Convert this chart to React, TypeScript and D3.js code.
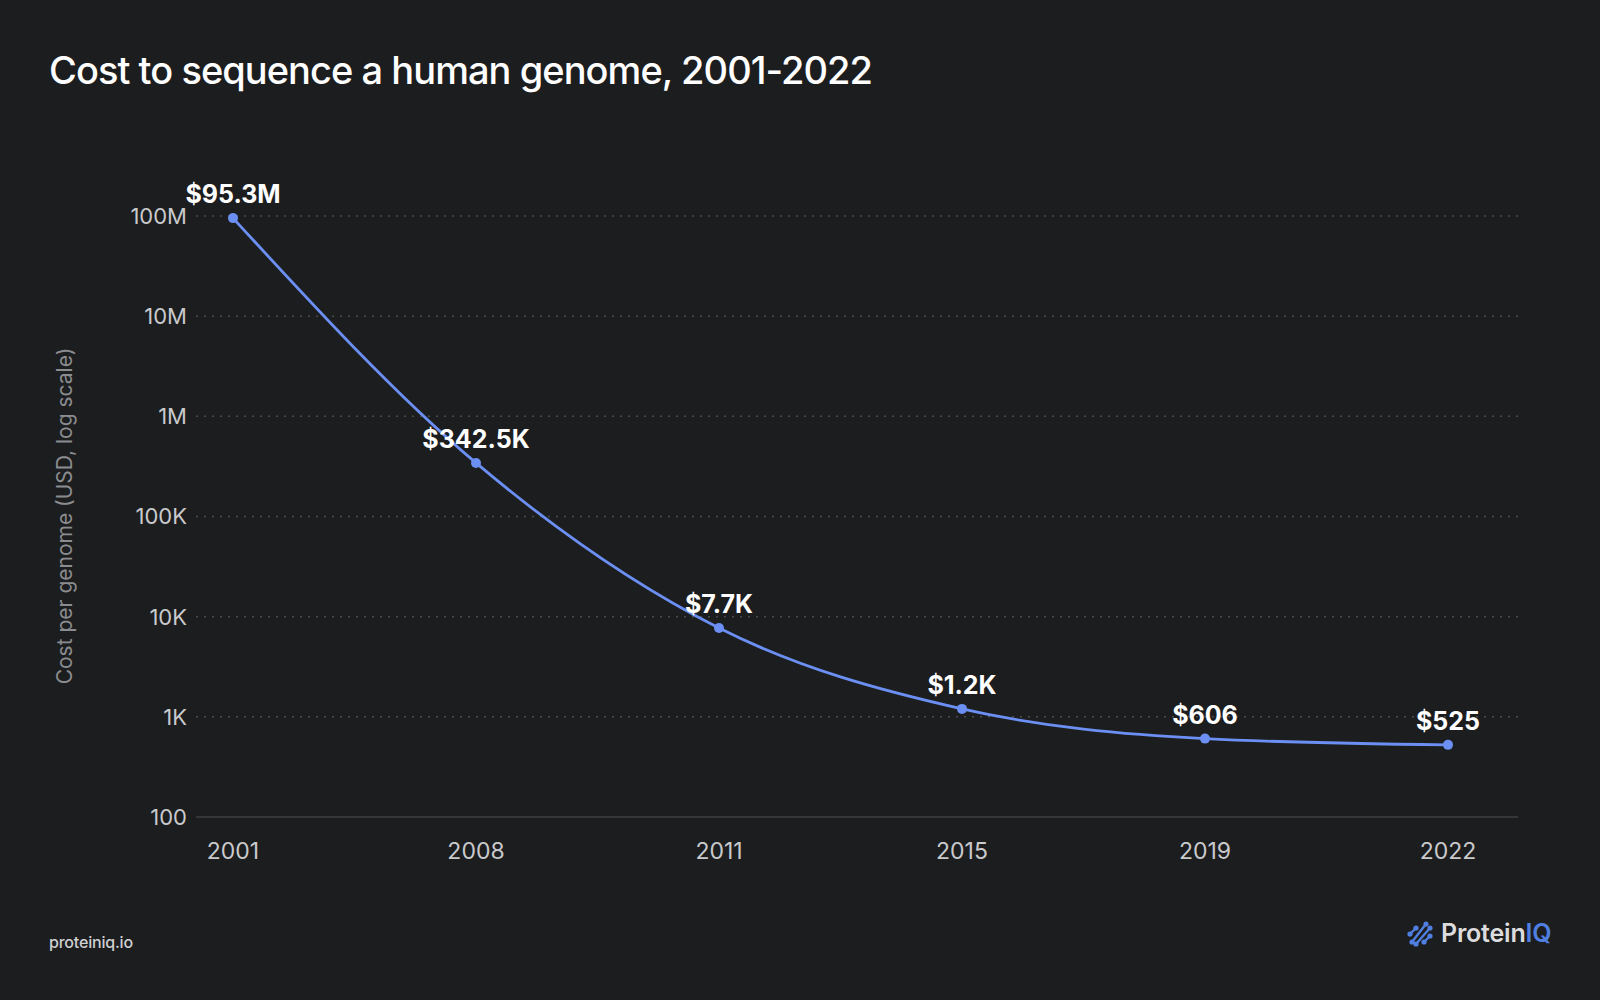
import React, { useEffect, useRef } from 'react'
import * as d3 from 'd3'

const years = ['2001', '2008', '2011', '2015', '2019', '2022']
const costs = [95300000, 342500, 7700, 1200, 606, 525]
const costLabels = ['$95.3M', '$342.5K', '$7.7K', '$1.2K', '$606', '$525']
const yTicks = [100, 1000, 10000, 100000, 1000000, 10000000, 100000000]
const yTickLabels = ['100', '1K', '10K', '100K', '1M', '10M', '100M']

const W = 1600
const H = 1000
const BG = '#1c1d1f'
const LINE = '#6b8ff2'
const FONT = 'Inter, "Liberation Sans", sans-serif'

const App: React.FC = () => {
  const ref = useRef<SVGSVGElement>(null)

  useEffect(() => {
    if (!ref.current) return
    const svg = d3.select(ref.current)
    svg.selectAll('*').remove()

    svg.append('rect').attr('width', W).attr('height', H).attr('fill', BG)

    const x = d3.scalePoint<string>().domain(years).range([233, 1448])
    const y = d3.scaleLog().domain([100, 1e8]).range([817, 216])
    const gridLeft = 196
    const gridRight = 1518

    // title
    svg.append('text')
      .attr('x', 49).attr('y', 84)
      .attr('fill', '#ffffff')
      .attr('font-family', FONT)
      .attr('font-size', 38)
      .attr('font-weight', 500)
      .attr('letter-spacing', -0.95)
      .text('Cost to sequence a human genome, 2001-2022')

    // grid lines
    const grid = svg.append('g')
    grid.selectAll('line')
      .data(yTicks)
      .enter().append('line')
      .attr('x1', gridLeft).attr('x2', gridRight)
      .attr('y1', d => y(d)).attr('y2', d => y(d))
      .attr('stroke', d => d === 100 ? '#3e3f42' : '#4a4b4e')
      .attr('stroke-width', 1.5)
      .attr('stroke-dasharray', d => d === 100 ? null : '2,6')

    // y tick labels
    svg.append('g').selectAll('text')
      .data(yTicks)
      .enter().append('text')
      .attr('x', 187)
      .attr('y', d => y(d))
      .attr('dy', '0.36em')
      .attr('text-anchor', 'end')
      .attr('fill', '#c9cacc')
      .attr('font-family', FONT)
      .attr('font-size', 22)
      .text((d, i) => yTickLabels[i])

    // x tick labels
    svg.append('g').selectAll('text')
      .data(years)
      .enter().append('text')
      .attr('x', d => x(d) as number)
      .attr('y', 859)
      .attr('text-anchor', 'middle')
      .attr('fill', '#c9cacc')
      .attr('font-family', FONT)
      .attr('font-size', 23)
      .text(d => d)

    // y axis title
    svg.append('text')
      .attr('transform', 'translate(72,516) rotate(-90)')
      .attr('text-anchor', 'middle')
      .attr('fill', '#8b8c8f')
      .attr('font-family', FONT)
      .attr('font-size', 21)
      .text('Cost per genome (USD, log scale)')

    const pts = years.map((yr, i) => ({ yr, v: costs[i], label: costLabels[i] }))

    const line = d3.line<{ yr: string; v: number }>()
      .x(d => x(d.yr) as number)
      .y(d => y(d.v))
      .curve(d3.curveMonotoneX)

    svg.append('path')
      .datum(pts)
      .attr('d', line)
      .attr('fill', 'none')
      .attr('stroke', LINE)
      .attr('stroke-width', 2.8)

    svg.append('g').selectAll('circle')
      .data(pts)
      .enter().append('circle')
      .attr('cx', d => x(d.yr) as number)
      .attr('cy', d => y(d.v))
      .attr('r', 5)
      .attr('fill', LINE)

    svg.append('g').selectAll('text')
      .data(pts)
      .enter().append('text')
      .attr('x', d => x(d.yr) as number)
      .attr('y', d => y(d.v) - 15)
      .attr('text-anchor', 'middle')
      .attr('fill', '#ffffff')
      .attr('font-family', FONT)
      .attr('font-size', 25)
      .attr('font-weight', 700)
      .text(d => d.label)

    // footer
    svg.append('text')
      .attr('x', 49).attr('y', 948)
      .attr('fill', '#cfd0d2')
      .attr('font-family', FONT)
      .attr('font-size', 16)
      .attr('font-weight', 500)
      .attr('letter-spacing', -0.2)
      .text('proteiniq.io')

    // logo
    const logo = svg.append('g').attr('transform', 'translate(1420,932)')
    const segs = [
      [-10, 2, -4, -4],
      [-8, 10, 6, -8],
      [-4, 12, 10, -4],
      [4, 10, 10, 4],
    ]
    segs.forEach(([x1, y1, x2, y2]) => {
      logo.append('line')
        .attr('x1', x1).attr('y1', y1).attr('x2', x2).attr('y2', y2)
        .attr('stroke', '#4f7fe0').attr('stroke-width', 2.4).attr('stroke-linecap', 'round')
      logo.append('circle').attr('cx', x1).attr('cy', y1).attr('r', 2.6).attr('fill', '#4f7fe0')
      logo.append('circle').attr('cx', x2).attr('cy', y2).attr('r', 2.6).attr('fill', '#4f7fe0')
    })
    const brand = svg.append('text')
      .attr('x', 1441).attr('y', 942)
      .attr('font-family', FONT)
      .attr('font-size', 25)
      .attr('font-weight', 600)
      .attr('letter-spacing', -0.2)
    brand.append('tspan').attr('fill', '#dcdcde').text('Protein')
    brand.append('tspan').attr('fill', '#4f7fe0').text('IQ')
  }, [])

  return (
    <svg
      ref={ref}
      width={W}
      height={H}
      style={{ position: 'absolute', left: 0, top: 0, display: 'block' }}
    />
  )
}

export default App
